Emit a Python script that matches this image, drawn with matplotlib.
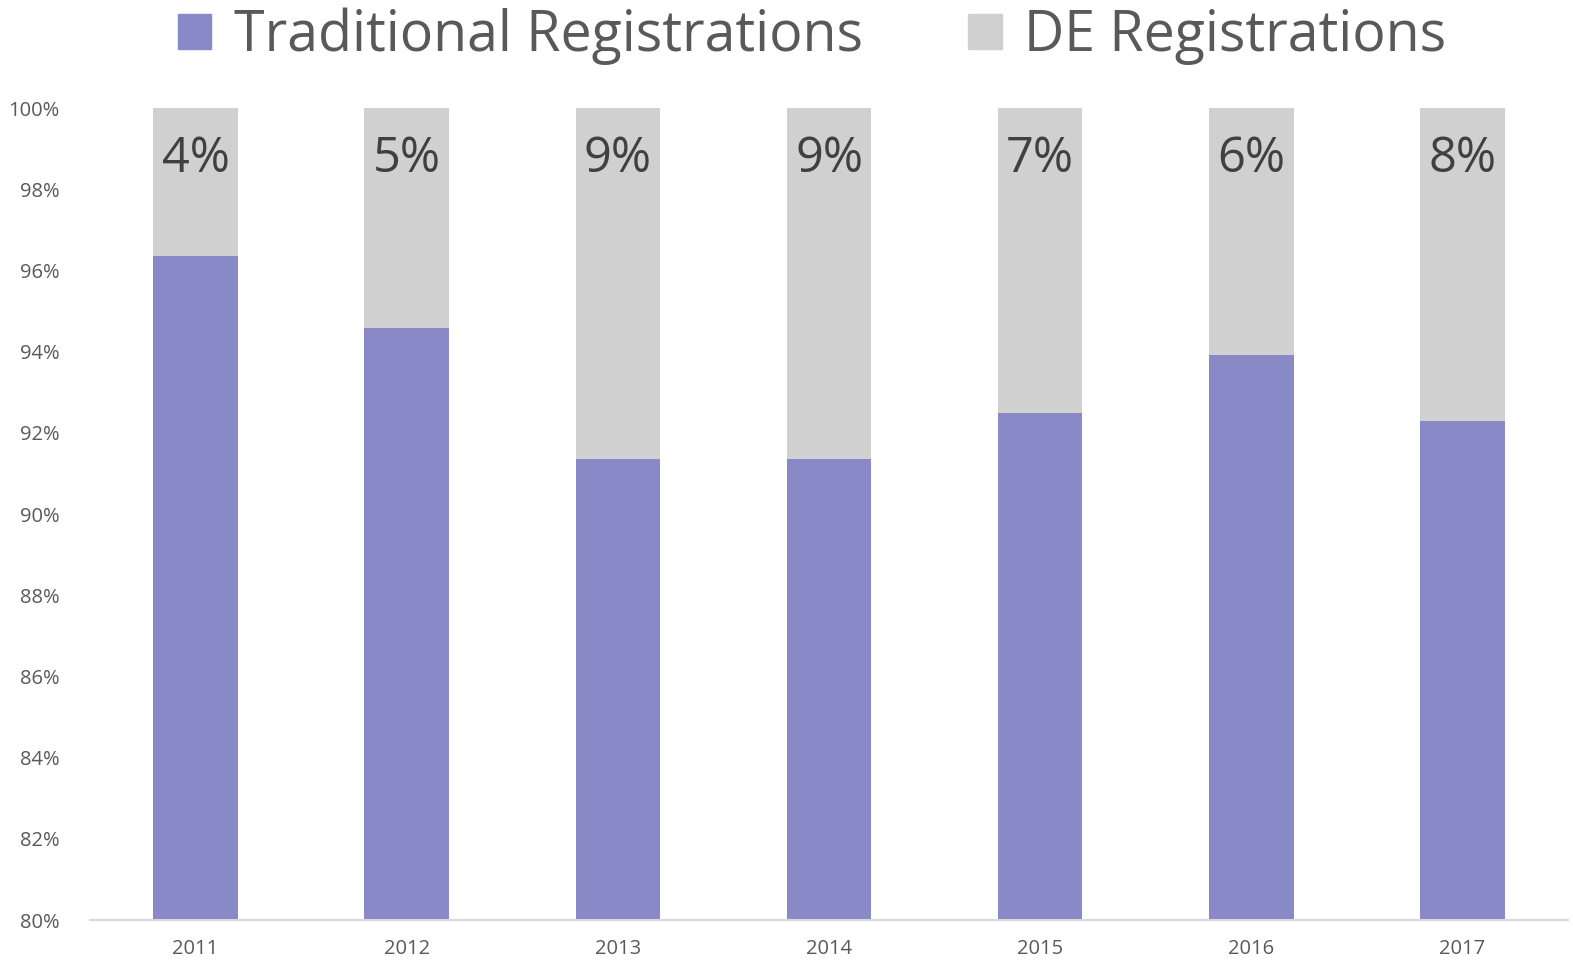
import numpy as np
import matplotlib.pyplot as plt
from matplotlib.patches import Patch

years = ["2011", "2012", "2013", "2014", "2015", "2016", "2017"]
traditional = [96.35, 94.58, 91.35, 91.35, 92.49, 93.92, 92.29]  # % of registrations
de_labels = ["4%", "5%", "9%", "9%", "7%", "6%", "8%"]

purple = "#8989C8"
grey = "#D0D0D0"
txt = "#595959"

plt.rcParams["font.family"] = ["Open Sans", "DejaVu Sans"]

fig = plt.figure(figsize=(15.73, 9.65), dpi=100)
ax = fig.add_axes([90 / 1573, 45 / 965, 1478 / 1573, 812 / 965])

x = np.arange(len(years))
trad = np.array(traditional)
de = 100 - trad
ax.bar(x, trad, width=0.4, color=purple, zorder=2)
ax.bar(x, de, bottom=trad, width=0.4, color=grey, zorder=2)

for i, lab in enumerate(de_labels):
    ax.text(x[i], 98.75, lab, ha="center", va="center", fontsize=35, color="#404040")

ax.set_xlim(-0.5, len(years) - 0.5)
ax.set_ylim(80, 100)
ax.set_yticks(np.arange(80, 101, 2))
ax.set_yticklabels([f"{v}%" for v in range(80, 101, 2)])
ax.set_xticks(x)
ax.set_xticklabels(years)
ax.tick_params(axis="both", length=0, labelsize=14.5, colors=txt)
ax.tick_params(axis="y", pad=22)
ax.tick_params(axis="x", pad=14)
for s in ["top", "right", "left"]:
    ax.spines[s].set_visible(False)
ax.spines["bottom"].set_color("#D9D9D9")
ax.spines["bottom"].set_linewidth(1.5)

handles = [Patch(color=purple, label="Traditional Registrations"),
           Patch(color=grey, label="DE Registrations")]
fig.legend(handles=handles, loc="center", bbox_to_anchor=(812 / 1573, 1 - 36 / 965),
           ncol=2, frameon=False, fontsize=40, labelcolor=txt,
           handlelength=0.6, handleheight=0.6, handletextpad=0.4, columnspacing=1.9)

fig.savefig("out.png", dpi=100)
